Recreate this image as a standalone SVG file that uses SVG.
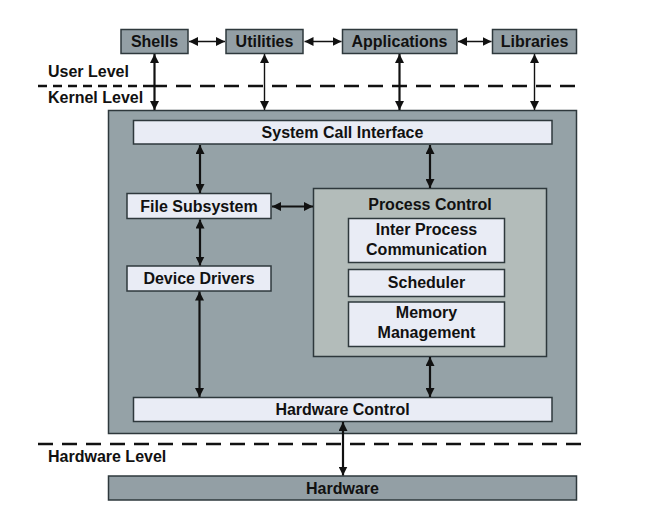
<svg xmlns="http://www.w3.org/2000/svg" width="656" height="519" viewBox="0 0 656 519">
<style>
text{font-family:"Liberation Sans",Arial,sans-serif;font-weight:bold;font-size:16px;fill:#111;text-anchor:middle}
.lvl{text-anchor:start}
.dark{fill:#939fa5;stroke:#2e383c;stroke-width:1.5}
.kern{fill:#95a2a7;stroke:#2e383c;stroke-width:1.5}
.pc{fill:#b3bcba;stroke:#2e383c;stroke-width:1.5}
.lite{fill:#e9ecf5;stroke:#2e383c;stroke-width:1.5}
.dash{stroke:#111;stroke-width:2.5;fill:none}
.c{stroke:#111;fill:none;marker-start:url(#ah);marker-end:url(#ah)}
.t{stroke-width:2.2}
.n{stroke-width:1.4}
</style>
<defs>
<marker id="ah" viewBox="0 0 10 10" refX="10" refY="5" markerWidth="9" markerHeight="9" markerUnits="userSpaceOnUse" orient="auto-start-reverse">
<path d="M0,0 L10,5 L0,10 z" fill="#111"/>
</marker>
</defs>
<rect width="656" height="519" fill="#fff"/>

<g id="levels">
<text class="lvl" x="48" y="77">User Level</text>
<text class="lvl" x="48" y="103">Kernel Level</text>
<text class="lvl" x="48" y="462">Hardware Level</text>
<line class="dash" x1="38" y1="86" x2="152" y2="86" stroke-dasharray="9 6"/>
<line class="dash" x1="152" y1="86" x2="584" y2="86" stroke-dasharray="15 9"/>
<line class="dash" x1="38" y1="444" x2="584" y2="444" stroke-dasharray="15 9"/>
</g>

<g id="kernel"><rect class="kern" x="108.5" y="110.5" width="468" height="323"/></g>

<g id="shells"><rect class="dark" x="121" y="29.5" width="67" height="24"/><text x="154.5" y="47">Shells</text></g>
<g id="utilities"><rect class="dark" x="226" y="29.5" width="77" height="24"/><text x="264.5" y="47">Utilities</text></g>
<g id="applications"><rect class="dark" x="342.5" y="29.5" width="114.5" height="24"/><text x="399.5" y="47">Applications</text></g>
<g id="libraries"><rect class="dark" x="492.5" y="29.5" width="84" height="24"/><text x="534.5" y="47">Libraries</text></g>

<g id="sci"><rect class="lite" x="133.5" y="120.5" width="418.5" height="23.5"/><text x="342.5" y="138">System Call Interface</text></g>
<g id="file-subsystem"><rect class="lite" x="127" y="193.5" width="144" height="25"/><text x="199" y="212">File Subsystem</text></g>
<g id="device-drivers"><rect class="lite" x="127" y="266" width="144" height="25"/><text x="199" y="284">Device Drivers</text></g>
<g id="process-control"><rect class="pc" x="313.5" y="188.5" width="233" height="168"/><text x="430" y="210">Process Control</text></g>
<g id="ipc"><rect class="lite" x="348.5" y="218.5" width="156" height="44"/><text x="426.5" y="235">Inter Process</text><text x="426.5" y="255">Communication</text></g>
<g id="scheduler"><rect class="lite" x="348.5" y="269.5" width="156" height="27"/><text x="426.5" y="288">Scheduler</text></g>
<g id="memory"><rect class="lite" x="348.5" y="302" width="156" height="44.5"/><text x="426.5" y="318">Memory</text><text x="426.5" y="338">Management</text></g>
<g id="hardware-control"><rect class="lite" x="133.5" y="397.5" width="418.5" height="24"/><text x="342.5" y="415">Hardware Control</text></g>
<g id="hardware"><rect class="dark" x="108.5" y="476" width="468" height="24"/><text x="342.5" y="494">Hardware</text></g>

<g id="connectors">
<line class="c n" x1="189" y1="41.5" x2="225" y2="41.5"/>
<line class="c n" x1="304.5" y1="41.5" x2="341.5" y2="41.5"/>
<line class="c n" x1="458" y1="41.5" x2="491.5" y2="41.5"/>
<line class="c t" x1="154.5" y1="54" x2="154.5" y2="110"/>
<line class="c n" x1="264.5" y1="54" x2="264.5" y2="110"/>
<line class="c t" x1="399.5" y1="54" x2="399.5" y2="110"/>
<line class="c n" x1="534.5" y1="54" x2="534.5" y2="110"/>
<line class="c t" x1="200" y1="145" x2="200" y2="193"/>
<line class="c t" x1="430" y1="145" x2="430" y2="188"/>
<line class="c t" x1="200" y1="219.5" x2="200" y2="265.5"/>
<line class="c t" x1="272" y1="206.5" x2="313" y2="206.5"/>
<line class="c t" x1="199.5" y1="291.5" x2="199.5" y2="397"/>
<line class="c t" x1="430" y1="357" x2="430" y2="397"/>
<line class="c t" x1="343" y1="422" x2="343" y2="475.5"/>
</g>
</svg>
